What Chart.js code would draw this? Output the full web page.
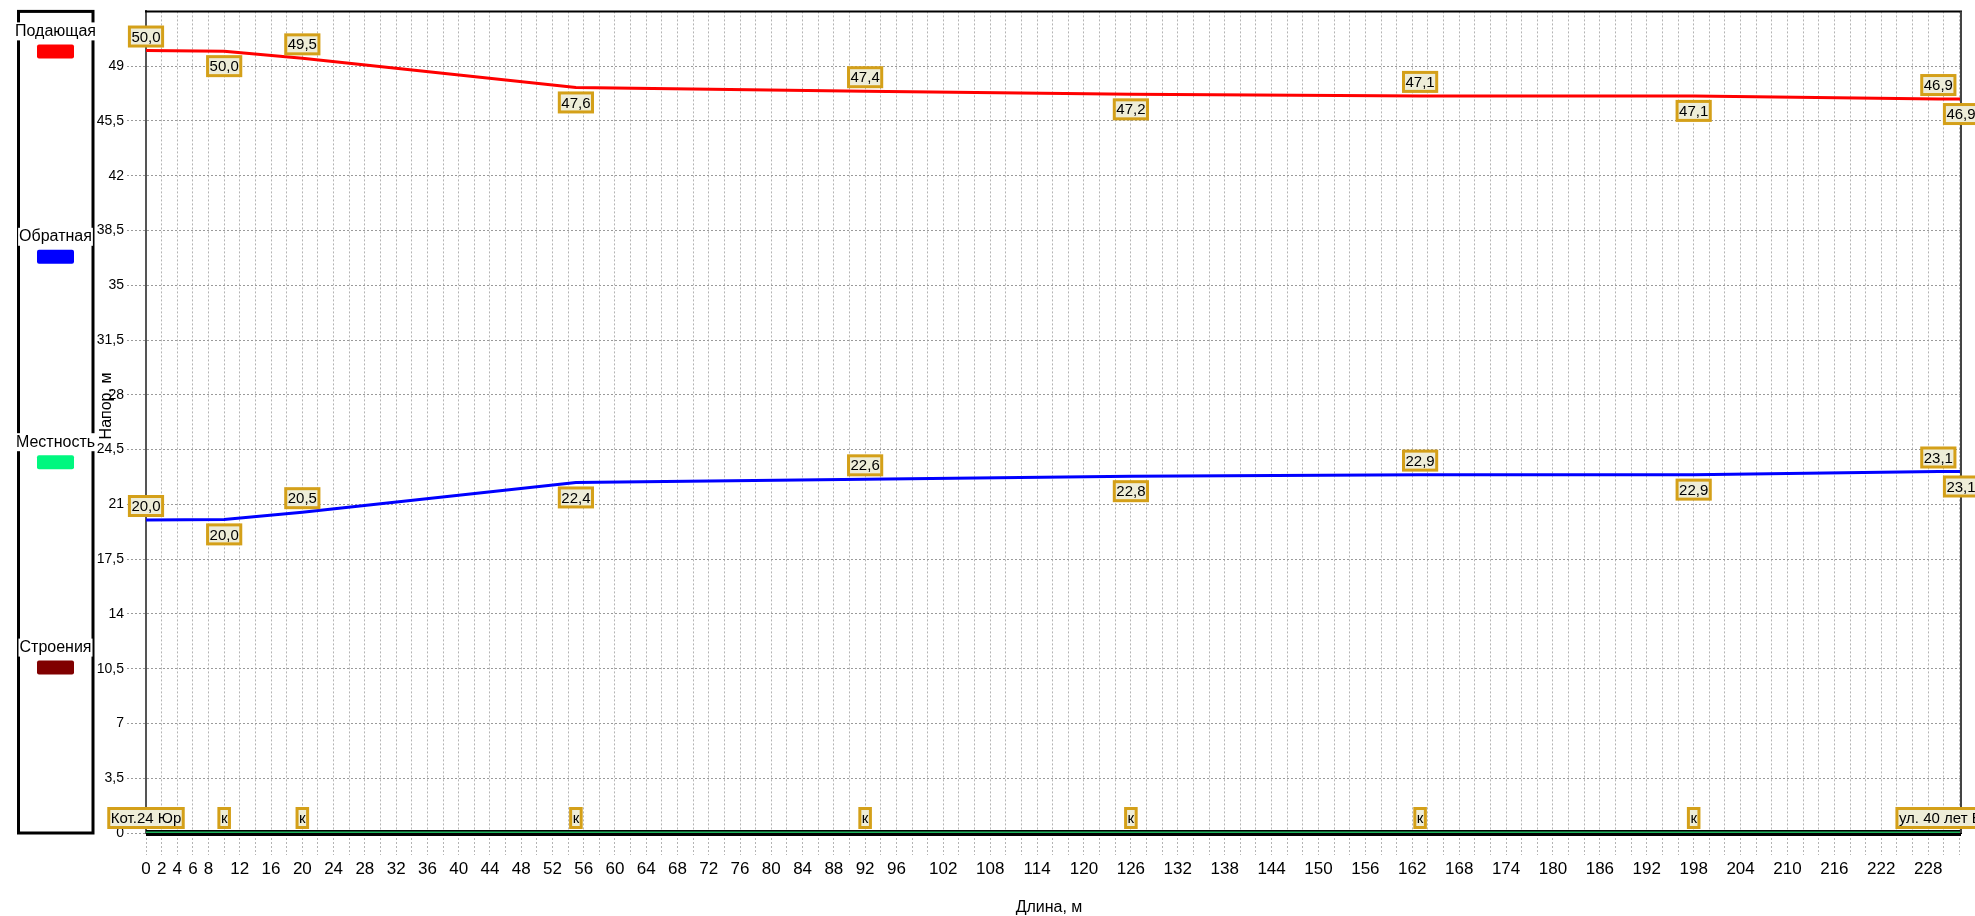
<!DOCTYPE html>
<html>
<head>
<meta charset="utf-8">
<script src="https://cdn.jsdelivr.net/npm/chart.js@4/dist/chart.umd.min.js"></script>
<style>
  html, body { margin: 0; padding: 0; background: #fff; overflow: hidden; }
  canvas { display: block; }
</style>
</head>
<body>
<canvas id="myChart" width="1975" height="916"></canvas>
<script>
// node positions along the pipe, m
var lengths = [0, 10, 20, 55, 92, 126, 163, 198, 229.3, 232.2];
// head, m
var supplyHead = [50.0, 49.96, 49.5, 47.64, 47.4, 47.2, 47.1, 47.1, 46.9, 46.9];
var returnHead = [20.0, 20.04, 20.5, 22.4, 22.6, 22.8, 22.9, 22.9, 23.1, 23.1];
var groundLevel = [0, 0, 0, 0, 0, 0, 0, 0, 0, 0];
var nodeNames = ['Кот.24 Юр', 'к', 'к', 'к', 'к', 'к', 'к', 'к', '', 'ул. 40 лет ВЛКСМ'];

var xTickLabels = [0, 2, 4, 6, 8, 12, 16, 20, 24, 28, 32, 36, 40, 44, 48, 52, 56, 60, 64, 68,
  72, 76, 80, 84, 88, 92, 96, 102, 108, 114, 120, 126, 132, 138, 144, 150, 156, 162, 168,
  174, 180, 186, 192, 198, 204, 210, 216, 222, 228];
var yTickValues = [0, 3.5, 7, 10.5, 14, 17.5, 21, 24.5, 28, 31.5, 35, 38.5, 42, 45.5, 49];

var FONT = '"Liberation Sans", Arial, sans-serif';
Chart.defaults.font.family = FONT;
Chart.defaults.color = '#000';

function pts(ys) {
  return lengths.map(function (x, i) { return { x: x, y: ys[i] }; });
}
function fmt(v) { return v.toFixed(1).replace('.', ','); }

function drawBox(ctx, text, cx, cy) {
  ctx.font = '15px ' + FONT;
  var w = ctx.measureText(text).width + 4, h = 19;
  ctx.fillStyle = '#EEEDD8';
  ctx.fillRect(cx - w / 2, cy - h / 2, w, h);
  ctx.lineWidth = 3;
  ctx.strokeStyle = '#D4A019';
  ctx.strokeRect(cx - w / 2, cy - h / 2, w, h);
  ctx.fillStyle = '#000';
  ctx.textAlign = 'center';
  ctx.textBaseline = 'middle';
  ctx.fillText(text, cx, cy + 1);
}

// black edge under the ground line
var groundOutline = {
  id: 'groundOutline',
  beforeDatasetDraw: function (chart, args) {
    var ds = chart.data.datasets[args.index];
    if (!ds.outline) return;
    var p = args.meta.data, ctx = chart.ctx;
    ctx.save();
    ctx.strokeStyle = '#000';
    ctx.lineWidth = 6;
    ctx.beginPath();
    ctx.moveTo(p[0].x, p[0].y);
    for (var i = 1; i < p.length; i++) ctx.lineTo(p[i].x, p[i].y);
    ctx.stroke();
    ctx.restore();
  }
};

var labelsPlugin = {
  id: 'valueLabels',
  afterDatasetsDraw: function (chart) {
    var ctx = chart.ctx, a = chart.chartArea;
    var xs = chart.scales.x, ys = chart.scales.y;
    ctx.save();
    // frame top and right
    ctx.lineWidth = 2;
    ctx.strokeStyle = '#000';
    ctx.beginPath(); ctx.moveTo(a.left - 1, a.top); ctx.lineTo(a.right + 1, a.top); ctx.stroke();
    ctx.strokeStyle = '#444';
    ctx.beginPath(); ctx.moveTo(a.right, a.top); ctx.lineTo(a.right, a.bottom); ctx.stroke();

    chart.data.datasets.forEach(function (ds, di) {
      if (!ds.valueLabels) return;
      var meta = chart.getDatasetMeta(di);
      meta.data.forEach(function (pt, i) {
        var dy = i % 2 === 0 ? -14 : 15;
        drawBox(ctx, fmt(ds.data[i].y), pt.x, pt.y + dy);
      });
    });
    var y0 = ys.getPixelForValue(0);
    nodeNames.forEach(function (name, i) {
      if (!name) return;
      drawBox(ctx, name, xs.getPixelForValue(lengths[i]), y0 - 15);
    });
    ctx.restore();
  }
};

var sideLegend = {
  id: 'sideLegend',
  afterDraw: function (chart) {
    var ctx = chart.ctx, a = chart.chartArea;
    var left = 18.5, right = 93, cx = 55.5;
    ctx.save();
    ctx.strokeStyle = '#000';
    ctx.lineWidth = 3;
    ctx.strokeRect(left, a.top, right - left, a.bottom - a.top);
    var sets = chart.data.datasets;
    var step = (a.bottom - a.top) / sets.length;
    sets.forEach(function (ds, i) {
      var cy = a.top + step * i + 20;
      ctx.font = '16px ' + FONT;
      var tw = ctx.measureText(ds.label).width;
      ctx.fillStyle = '#fff';
      ctx.fillRect(cx - tw / 2 - 1, cy - 9, tw + 2, 18);
      ctx.fillStyle = '#000';
      ctx.textAlign = 'center';
      ctx.textBaseline = 'middle';
      ctx.fillText(ds.label, cx, cy);
      ctx.fillStyle = ds.legendColor;
      ctx.beginPath();
      ctx.roundRect(37, cy + 13, 37, 14, 2);
      ctx.fill();
    });
    // axis titles
    ctx.font = '16px ' + FONT;
    ctx.fillStyle = '#000';
    ctx.textAlign = 'center';
    ctx.textBaseline = 'middle';
    ctx.fillText('Длина, м', 1049, 908);
    ctx.translate(107, 406);
    ctx.rotate(-Math.PI / 2);
    ctx.fillText('Напор, м', 0, 0);
    ctx.restore();
  }
};

var ctx = document.getElementById('myChart').getContext('2d');
var chart = new Chart(ctx, {
  type: 'line',
  data: {
    datasets: [
      {
        label: 'Подающая',
        data: pts(supplyHead),
        borderColor: '#FF0000',
        legendColor: '#FF0000',
        borderWidth: 3,
        valueLabels: true
      },
      {
        label: 'Обратная',
        data: pts(returnHead),
        borderColor: '#0000FF',
        legendColor: '#0000FF',
        borderWidth: 3,
        valueLabels: true
      },
      {
        label: 'Местность',
        data: pts(groundLevel),
        borderColor: '#1EB45E',
        legendColor: '#00F77F',
        borderWidth: 3,
        outline: true
      },
      {
        label: 'Строения',
        data: [],
        borderColor: '#800000',
        legendColor: '#800000'
      }
    ]
  },
  options: {
    responsive: false,
    animation: false,
    devicePixelRatio: 1,
    layout: { padding: { top: 9, right: 14, left: 0, bottom: 0 } },
    elements: { point: { radius: 0, hoverRadius: 0 }, line: { tension: 0 } },
    plugins: { legend: { display: false }, tooltip: { enabled: false } },
    scales: {
      x: {
        type: 'linear',
        min: 0,
        max: 232.2,
        afterFit: function (s) { s.height = 83; },
        afterBuildTicks: function (s) {
          var t = [];
          for (var v = 0; v <= 232; v += 2) t.push({ value: v });
          s.ticks = t;
        },
        ticks: {
          autoSkip: false,
          maxRotation: 0,
          padding: 4,
          font: { size: 17 },
          callback: function (v) { return xTickLabels.indexOf(v) >= 0 ? String(v) : ''; }
        },
        grid: { color: '#b4b4b4', tickColor: '#b4b4b4', tickLength: 22, tickBorderDash: [2, 2] },
        border: { color: '#000', width: 2, dash: [2, 2] }
      },
      y: {
        min: 0,
        max: 52.5,
        afterFit: function (s) { s.width = 146; },
        afterBuildTicks: function (s) {
          s.ticks = yTickValues.map(function (v) { return { value: v }; });
        },
        ticks: {
          padding: 3,
          font: { size: 14 },
          callback: function (v) { return String(v).replace('.', ','); }
        },
        grid: { color: '#9a9a9a', tickColor: '#9a9a9a', tickLength: 19, tickBorderDash: [2, 2] },
        border: { color: '#555', width: 2, dash: [2, 2] }
      }
    }
  },
  plugins: [groundOutline, labelsPlugin, sideLegend]
});
</script>
</body>
</html>
